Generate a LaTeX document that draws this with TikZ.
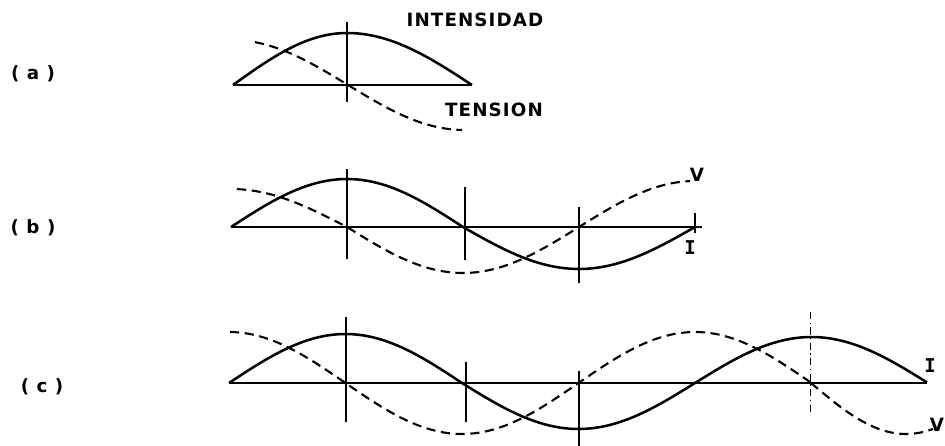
\documentclass[tikz,border=0pt]{standalone}
\usepackage{fontspec}
\newfontfamily\lettering[LetterSpace=6]{DejaVu Sans}
\newfontfamily\monoletter{DejaVu Sans Mono}
\begin{document}
\begin{tikzpicture}[x=0.025cm, y=-0.025cm,
  curve/.style={line width=1.8pt, line join=round},
  volt/.style={line width=1.5pt, dash pattern=on 6.5pt off 4pt},
  axis/.style={line width=1.4pt},
  tick/.style={line width=0.9pt},
  lbl/.style={font=\lettering\bfseries\fontsize{13pt}{15pt}\selectfont},
  tag/.style={font=\monoletter\bfseries\fontsize{13.5pt}{15pt}\selectfont}]
\useasboundingbox (0,0) rectangle (945,446);

% (a)
\node[lbl] (taga) at (33,74) {( a )};
\draw[axis] (233,85) -- (472,85);
\draw[tick] (347,22) -- (347,102);
\draw[curve, domain=233:347, samples=40] plot (\x, {85-52*sin((\x-233)/114*90)});
\draw[curve, domain=347:472, samples=40] plot (\x, {85-52*cos((\x-347)/125*90)});
\draw[volt, domain=255:462, samples=60] plot (\x, {85-45*cos((\x-232)/116*90)});
\node[lbl] (intens) at (475,20) {INTENSIDAD};
\node[lbl] (tension) at (494,110) {TENSION};

% (b)
\node[lbl] (tagb) at (33,228) {( b )};
\draw[axis] (231,227) -- (702,227);
\foreach \xx/\ya/\yb in {347/169/259, 465/187/260, 579/207/283, 695/213/233}
  \draw[tick] (\xx,\ya) -- (\xx,\yb);
\draw[curve, domain=231:695, samples=100] plot (\x, {227-ifthenelse(\x<465,48,42)*sin((\x-231)/116*90)});
\draw[volt, domain=237:690, samples=100] plot (\x, {227-ifthenelse(\x<347,38,46)*cos((\x-231)/116*90)});
\node[lbl] (vb) at (697,175) {V};
\node[tag] (ib) at (690,248) {I};

% (c)
\node[lbl] (tagc) at (42,387) {( c )};
\draw[axis] (229,383) -- (927,383);
\foreach \xx/\ya/\yb in {346/317/422, 466/362/422, 579/371/446}
  \draw[tick] (\xx,\ya) -- (\xx,\yb);
\draw[tick, line width=0.7pt, dash pattern=on 5pt off 2.5pt on 1pt off 2.5pt] (810,312) -- (810,413);
\draw[curve, domain=229:927, samples=150] plot (\x, {383-ifthenelse(\x<466,49,46)*sin((\x-229)/116.5*90)});
\draw[volt, domain=230:811, samples=120] plot (\x, {383-51*cos((\x-229)/116.5*90)});
\draw[volt, domain=811:933, samples=30] plot (\x, {383-51*cos(90+(\x-811)/95*90)});
\node[tag] (ic) at (930,366) {I};
\node[lbl] (vc) at (937,425) {V};
\end{tikzpicture}
\end{document}
